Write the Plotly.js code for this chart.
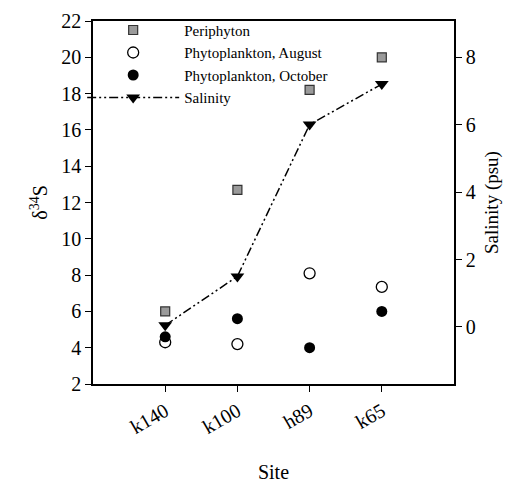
<!DOCTYPE html>
<html><head><meta charset="utf-8">
<script src="https://cdn.plot.ly/plotly-3.0.1.min.js"></script>
<style>body{margin:0;background:#fff}#c{width:527px;height:483px}</style>
</head><body><div id="c"></div>
<script>
const sites = ["k140", "k100", "h89", "k65"];
const periphyton = [6.0, 12.7, 18.2, 20.0];
const phytoAugust = [4.3, 4.2, 8.1, 7.35];
const phytoOctober = [4.6, 5.6, 4.0, 6.0];
const salinity = [0.05, 1.5, 6.0, 7.2];

const F = "'Liberation Serif', 'DejaVu Serif', serif";
const traces = [
  {x: sites, y: periphyton, name: "Periphyton", mode: "markers", type: "scatter",
   marker: {symbol: "square", size: 9, color: "#9a9a9a", line: {color: "#333", width: 1.2}}},
  {x: sites, y: phytoAugust, name: "Phytoplankton, August", mode: "markers", type: "scatter",
   marker: {symbol: "circle-open", size: 11, color: "#000", line: {width: 1.3}}},
  {x: sites, y: phytoOctober, name: "Phytoplankton, October", mode: "markers", type: "scatter",
   marker: {symbol: "circle", size: 11, color: "#000"}},
  {x: sites, y: salinity, name: "Salinity", mode: "lines+markers", type: "scatter", yaxis: "y2",
   line: {color: "#000", width: 1.5, dash: "9px,3px,2px,3px,2px,3px"},
   marker: {symbol: "triangle-down", size: 12, color: "#000"}}
];
const layout = {
  width: 527, height: 483,
  margin: {l: 93, r: 73, t: 21, b: 99},
  paper_bgcolor: "#fff", plot_bgcolor: "#fff",
  font: {family: F, color: "#000", size: 18},
  showlegend: true,
  legend: {x: -0.03, y: 1.02, xanchor: "left", yanchor: "top", bgcolor: "rgba(0,0,0,0)",
           font: {family: F, size: 15}, itemwidth: 92, tracegroupgap: 0},
  xaxis: {type: "category", range: [-1, 4], showline: true, linecolor: "#000", linewidth: 1.5,
          mirror: true, ticks: "outside", ticklen: 6, tickcolor: "#000", tickangle: -30,
          tickfont: {family: F, size: 20}, showgrid: false, zeroline: false,
          title: {text: "Site", font: {family: F, size: 20}, standoff: 28}},
  yaxis: {range: [2, 22], dtick: 2, showline: true, linecolor: "#000", linewidth: 1.5,
          ticks: "outside", ticklen: 6, tickcolor: "#000", showgrid: false, zeroline: false,
          tickfont: {family: F, size: 20},
          title: {text: "δ<sup>34</sup>S", font: {family: F, size: 20}, standoff: 8}},
  yaxis2: {overlaying: "y", side: "right", range: [-1.69, 9.07], tickvals: [0, 2, 4, 6, 8],
           showline: true, linecolor: "#000", linewidth: 1.5, ticks: "outside", ticklen: 6,
           tickcolor: "#000", showgrid: false, zeroline: false,
           tickfont: {family: F, size: 20},
           title: {text: "Salinity (psu)", font: {family: F, size: 19}, standoff: 10}}
};
Plotly.newPlot("c", traces, layout, {displayModeBar: false});
</script></body></html>
